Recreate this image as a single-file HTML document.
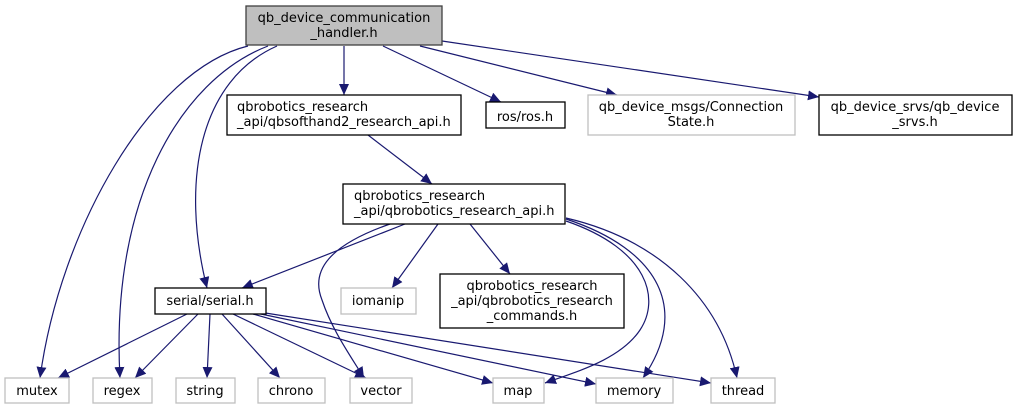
<!DOCTYPE html>
<html><head><meta charset="utf-8"><style>
html,body{margin:0;padding:0;background:#fff;width:1017px;height:409px;overflow:hidden}
text{font-family:"DejaVu Sans","Liberation Sans",sans-serif;font-size:13px;fill:#000}
</style></head><body>
<svg width="1017" height="409" viewBox="0 0 1017 409" xmlns="http://www.w3.org/2000/svg">
<defs>
<marker id="a" markerUnits="userSpaceOnUse" markerWidth="12" markerHeight="10" refX="11" refY="5" orient="auto">
<path d="M0,0 L11,5 L0,10 Z" fill="#191970"/>
</marker>
</defs>
<g fill="none" stroke="#191970" stroke-width="1.2" marker-end="url(#a)">
<path d="M248,46 C150,70 60,230 40,378"/>
<path d="M268,46 C180,80 110,200 120,378"/>
<path d="M277,46 C200,80 180,180 207,288"/>
<path d="M344,46 L344,95"/>
<path d="M383,46 L501,102"/>
<path d="M420,46 L617,95"/>
<path d="M442,41 L819,97"/>
<path d="M368,135 L432,184"/>
<path d="M405,224 L242,288"/>
<path d="M390,224 C330,245 310,270 322,300 C332,330 350,355 364,378"/>
<path d="M438,224 L392,288"/>
<path d="M470,224 L510,274"/>
<path d="M566,221 C650,250 660,300 640,330 C620,360 575,372 545,383"/>
<path d="M566,219 C660,250 690,310 643,378"/>
<path d="M566,218 C660,240 720,300 737,378"/>
<path d="M187,314 L58,378"/>
<path d="M198,314 L135,378"/>
<path d="M210,314 L207,378"/>
<path d="M222,314 L280,378"/>
<path d="M233,314 L366,378"/>
<path d="M253,314 L493,383"/>
<path d="M256,313 L596,384"/>
<path d="M259,312 L711,383"/>
</g>
<g stroke-width="1.3">
<rect x="246" y="6" width="196" height="39" fill="#bfbfbf" stroke="#404040"/>
<rect x="227" y="95" width="234" height="40" fill="#fff" stroke="#000"/>
<rect x="486" y="102" width="79" height="26" fill="#fff" stroke="#000"/>
<rect x="588" y="95" width="207" height="40" fill="#fff" stroke="#bfbfbf"/>
<rect x="819" y="95" width="193" height="40" fill="#fff" stroke="#000"/>
<rect x="343" y="184" width="222" height="40" fill="#fff" stroke="#000"/>
<rect x="155" y="288" width="111" height="26" fill="#fff" stroke="#000"/>
<rect x="341" y="288" width="75" height="26" fill="#fff" stroke="#bfbfbf"/>
<rect x="440" y="274" width="184" height="54" fill="#fff" stroke="#000"/>
<rect x="5" y="378" width="64" height="25" fill="#fff" stroke="#bfbfbf"/>
<rect x="93" y="378" width="59" height="25" fill="#fff" stroke="#bfbfbf"/>
<rect x="176" y="378" width="59" height="25" fill="#fff" stroke="#bfbfbf"/>
<rect x="258" y="378" width="67" height="25" fill="#fff" stroke="#bfbfbf"/>
<rect x="350" y="378" width="62" height="25" fill="#fff" stroke="#bfbfbf"/>
<rect x="493" y="378" width="51" height="25" fill="#fff" stroke="#bfbfbf"/>
<rect x="596" y="378" width="77" height="25" fill="#fff" stroke="#bfbfbf"/>
<rect x="711" y="378" width="64" height="25" fill="#fff" stroke="#bfbfbf"/>
</g>
<g text-anchor="middle">
<text x="344" y="22">qb_device_communication</text>
<text x="344" y="37">_handler.h</text>
<text x="378" y="305">iomanip</text>
<text x="525" y="121">ros/ros.h</text>
<text x="691" y="111">qb_device_msgs/Connection</text>
<text x="691" y="126">State.h</text>
<text x="915" y="111">qb_device_srvs/qb_device</text>
<text x="915" y="126">_srvs.h</text>
<text x="210" y="305">serial/serial.h</text>
<text x="532" y="290">qbrobotics_research</text>
<text x="532" y="305">_api/qbrobotics_research</text>
<text x="532" y="320">_commands.h</text>
<text x="37" y="395">mutex</text>
<text x="122" y="395">regex</text>
<text x="205" y="395">string</text>
<text x="291" y="395">chrono</text>
<text x="381" y="395">vector</text>
<text x="518" y="395">map</text>
<text x="634" y="395">memory</text>
<text x="743" y="395">thread</text>
</g>
<text x="237" y="111">qbrobotics_research</text>
<text x="237" y="126">_api/qbsofthand2_research_api.h</text>
<text x="354" y="200">qbrobotics_research</text>
<text x="354" y="215">_api/qbrobotics_research_api.h</text>
</svg>
</body></html>
